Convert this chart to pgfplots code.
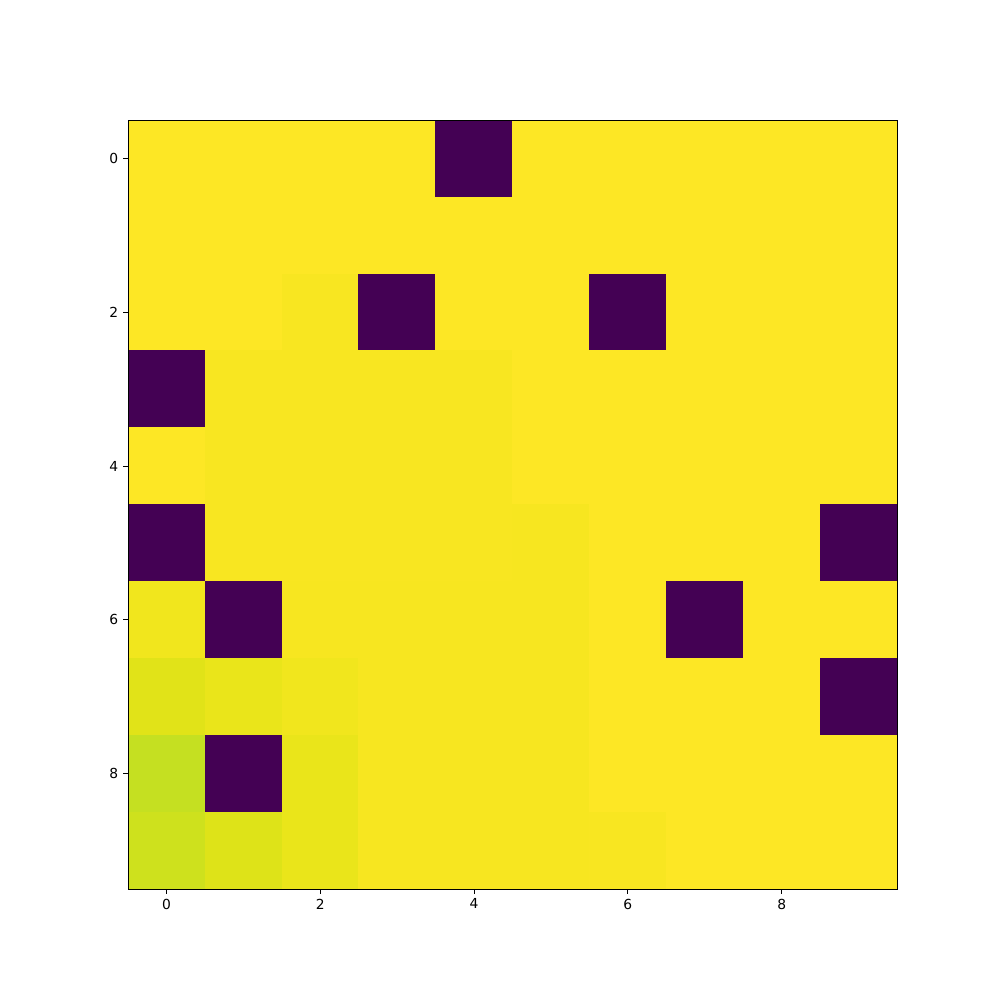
\documentclass[border=0pt]{standalone}
\usepackage{pgfplots}
\pgfplotsset{compat=1.18}
\usepackage{fontspec}
\setmainfont{DejaVu Sans}
\pgfplotsset{
  colormap={vir}{
    rgb255(0cm)=(68,1,84)
    rgb255(32cm)=(71,45,123)
    rgb255(64cm)=(59,82,139)
    rgb255(96cm)=(44,114,142)
    rgb255(128cm)=(33,145,140)
    rgb255(160cm)=(40,174,128)
    rgb255(192cm)=(94,201,98)
    rgb255(224cm)=(170,220,50)
    rgb255(244cm)=(197,224,33)
    rgb255(246cm)=(208,225,28)
    rgb255(249cm)=(223,227,24)
    rgb255(251cm)=(234,229,26)
    rgb255(253cm)=(244,230,30)
    rgb255(254cm)=(248,230,33)
    rgb255(255cm)=(253,231,37)
  }
}
\begin{document}
\begin{tikzpicture}
\begin{axis}[
  scale only axis,
  width=7.69in, height=7.69in,
  xmin=-0.5, xmax=9.5, ymin=-0.5, ymax=9.5,
  y dir=reverse,
  colormap name=vir,
  point meta min=0, point meta max=1,
  xtick={0,2,4,6,8}, ytick={0,2,4,6,8},
  tick pos=left,
  tick align=outside,
  major tick length=3.5pt,
  tick style={black, line width=0.8pt},
  axis line style={black, line width=0.6pt},
  tick label style={font=\fontsize{10}{12}\selectfont, black},
  /pgf/number format/assume math mode=true,
  axis on top,
]
\addplot[matrix plot*, mesh/cols=10, point meta=explicit, shader=flat corner] table[meta=c] {
x y c
0 0 1
1 0 1
2 0 1
3 0 1
4 0 0
5 0 1
6 0 1
7 0 1
8 0 1
9 0 1
0 1 1
1 1 1
2 1 1
3 1 1
4 1 1
5 1 1
6 1 1
7 1 1
8 1 1
9 1 1
0 2 1
1 2 1
2 2 0.996
3 2 0
4 2 1
5 2 1
6 2 0
7 2 1
8 2 1
9 2 1
0 3 0
1 3 0.996
2 3 0.996
3 3 0.996
4 3 0.996
5 3 1
6 3 1
7 3 1
8 3 1
9 3 1
0 4 1
1 4 0.996
2 4 0.996
3 4 0.996
4 4 0.996
5 4 1
6 4 1
7 4 1
8 4 1
9 4 1
0 5 0
1 5 0.996
2 5 0.996
3 5 0.996
4 5 0.996
5 5 0.995
6 5 1
7 5 1
8 5 1
9 5 0
0 6 0.99
1 6 0
2 6 0.995
3 6 0.995
4 6 0.995
5 6 0.995
6 6 1
7 6 0
8 6 1
9 6 1
0 7 0.978
1 7 0.984
2 7 0.99
3 7 0.995
4 7 0.995
5 7 0.995
6 7 1
7 7 1
8 7 1
9 7 0
0 8 0.957
1 8 0
2 8 0.984
3 8 0.995
4 8 0.995
5 8 0.995
6 8 1
7 8 1
8 8 1
9 8 1
0 9 0.963
1 9 0.976
2 9 0.984
3 9 0.995
4 9 0.995
5 9 0.995
6 9 0.996
7 9 1
8 9 1
9 9 1
};
\end{axis}
\path (current axis.south west) ++(-1.28in,-1.11in) coordinate (bbsw);
\path (current axis.north east) ++(1.03in,1.20in) coordinate (bbne);
\path[use as bounding box] (bbsw) rectangle (bbne);
\end{tikzpicture}
\end{document}
